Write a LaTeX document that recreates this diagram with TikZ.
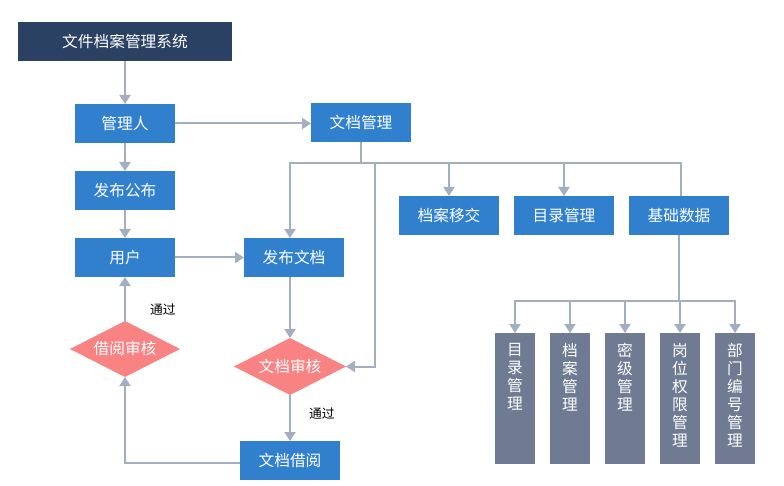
\documentclass[tikz,border=0pt]{standalone}
\usepackage{fontspec}
\setmainfont{Noto Sans CJK SC}
\usepackage{xcolor}
\usepackage{tikz}
\usetikzlibrary{shapes,arrows.meta,positioning,calc}

\definecolor{titlenavy}{RGB}{43,65,100}
\definecolor{boxblue}{RGB}{48,128,206}
\definecolor{boxslate}{RGB}{110,123,147}
\definecolor{checkpink}{RGB}{249,130,130}
\definecolor{linegray}{RGB}{163,174,192}

\begin{document}
\begin{tikzpicture}[x=1pt, y=-1pt, outer sep=0pt,
    font=\fontsize{15.7}{18}\selectfont,
    box/.style={rectangle, fill=boxblue, text=white, minimum width=100pt, minimum height=39pt, inner sep=0pt},
    vbox/.style={rectangle, fill=boxslate, minimum width=40pt, minimum height=131pt, anchor=north, inner sep=0pt},
    vtext/.style={text=white, align=center, anchor=north, inner sep=0pt},
    check/.style={diamond, fill=checkpink, text=white, aspect=2, inner sep=0pt},
    note/.style={font=\fontsize{12.8}{14}\selectfont, inner sep=2pt},
    line/.style={draw=linegray, line width=2pt},
    link/.style={line, -{Triangle[width=11pt,length=9pt]}}]
    \useasboundingbox (0,0) rectangle (784,486);

    % top part
    \node [box, fill=titlenavy, minimum width=214pt] (sys) at (125,41.5) {文件档案管理系统};
    \node [box] (admin) at (125,123.5) {管理人};
    \node [box] (docmgr) at (361,122.5) {文档管理};
    \node [box] (notice) at (125,190.5) {发布公布};
    \node [box] (user) at (125,257.5) {用户};
    \node [box] (publish) at (294,257.5) {发布文档};

    % review loop
    \node [check, minimum width=110pt, minimum height=56pt] (breview) at (125,349) {借阅审核};
    \node [check, minimum width=112pt, minimum height=57pt] (review) at (290,366.5) {文档审核};
    \node [box] (borrow) at (290,460.5) {文档借阅};

    % right branch
    \node [box] (transfer) at (449,215.5) {档案移交};
    \node [box] (catalog) at (564,215.5) {目录管理};
    \node [box] (basedata) at (679,215.5) {基础数据};

    \foreach \i/\x/\t in {1/515/{目\\录\\管\\理}, 2/570/{档\\案\\管\\理}, 3/625/{密\\级\\管\\理},
                          4/680/{岗\\位\\权\\限\\管\\理}, 5/735/{部\\门\\编\\号\\管\\理}} {
        \node [vbox] (v\i) at (\x,333) {};
        \node [vtext] at ([yshift=-10pt]v\i.north) {\t};
    }

    % connectors
    \draw [link] (sys) -- (admin);
    \draw [link] (admin.east) -- (admin.east -| docmgr.west);
    \draw [link] (admin) -- (notice);
    \draw [link] (notice) -- (user);
    \draw [link] (user) -- (publish);

    \coordinate (bus1) at ($(docmgr.south)+(0,21)$);
    \coordinate (tap) at ($(bus1)+(14,0)$);
    \draw [line] (docmgr.south) -- (bus1);
    \draw [link] (bus1) -| ([xshift=-4pt]publish.north);
    \draw [link] (bus1) -| (transfer);
    \draw [link] (bus1) -| (catalog);
    \draw [line] (bus1) -| ([xshift=2pt]basedata.north);
    \draw [link] (tap) |- (review.east);

    \coordinate (bus2) at ($(basedata.south)+(0,66)$);
    \draw [line] (basedata.south) -- (bus2);
    \foreach \i in {1,...,5}
        \draw [link] (bus2) -| (v\i.north);

    \draw [link] ([xshift=-4pt]publish.south) -- (review.north);
    \draw [link] (review) -- (borrow) node [note, pos=0.41, right=17pt] {通过};
    \draw [link] ([yshift=-2.5pt]borrow.west) -| (breview.south);
    \draw [link] (breview) -- (user) node [note, pos=0.25, right=23pt] {通过};
\end{tikzpicture}
\end{document}
